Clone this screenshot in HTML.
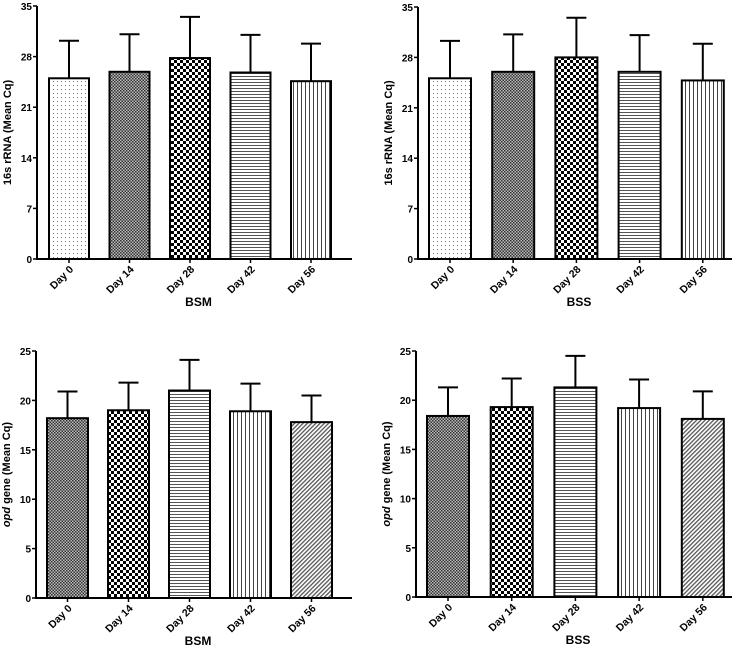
<!DOCTYPE html>
<html><head><meta charset="utf-8"><style>
body{margin:0;background:#fff;}
svg{display:block;font-family:"Liberation Sans",Arial,sans-serif;}
</style></head><body>
<svg id="c" width="738" height="651" viewBox="0 0 738 651" xmlns="http://www.w3.org/2000/svg">
<defs>
<pattern id="pDots" width="4" height="4" patternUnits="userSpaceOnUse"><rect width="4" height="4" fill="#fff"/><rect x="1" y="1" width="1" height="1" fill="#777"/></pattern>
<pattern id="pFine" width="3" height="3" patternUnits="userSpaceOnUse"><rect width="3" height="3" fill="#bbb"/><rect width="1.5" height="1.5" fill="#333"/><rect x="1.5" y="1.5" width="1.5" height="1.5" fill="#333"/></pattern>
<pattern id="pCheck" width="6" height="6" patternUnits="userSpaceOnUse"><rect width="6" height="6" fill="#fff"/><rect width="3" height="3" fill="#000"/><rect x="3" y="3" width="3" height="3" fill="#000"/></pattern>
<pattern id="pHoriz" width="4" height="3" patternUnits="userSpaceOnUse"><rect width="4" height="3" fill="#fff"/><rect y="1" width="4" height="1" fill="#555"/></pattern>
<pattern id="pVert" width="4" height="4" patternUnits="userSpaceOnUse"><rect width="4" height="4" fill="#fff"/><rect x="1" width="1" height="4" fill="#444"/></pattern>
<pattern id="pDiag" width="3" height="3" patternUnits="userSpaceOnUse" patternTransform="rotate(45)"><rect width="3" height="3" fill="#fff"/><rect width="1.3" height="3" fill="#555"/></pattern>
</defs>
</svg>
<script>
const categories=["Day 0","Day 14","Day 28","Day 42","Day 56"];
const bsm16sMeans=[25.0,25.9,27.8,25.8,24.6];
const bsm16sErrTop=[30.2,31.1,33.5,31.0,29.8];
const bss16sMeans=[25.1,26.0,28.0,26.0,24.8];
const bss16sErrTop=[30.3,31.2,33.5,31.1,29.9];
const bsmOpdMeans=[18.2,19.0,21.0,18.9,17.8];
const bsmOpdErrTop=[20.9,21.8,24.1,21.7,20.5];
const bssOpdMeans=[18.4,19.3,21.3,19.2,18.1];
const bssOpdErrTop=[21.3,22.2,24.5,22.1,20.9];
const ticks16s=[0,7,14,21,28,35];
const ticksOpd=[0,5,10,15,20,25];

const NS="http://www.w3.org/2000/svg";
const svg=document.getElementById('c');
function mk(tag,attrs,parent){const e=document.createElementNS(NS,tag);for(const k in attrs)e.setAttribute(k,attrs[k]);(parent||svg).appendChild(e);return e;}

function panel(p){
  const g=mk('g',{});
  
  
  const max=p.ticks[p.ticks.length-1];
  const y=v=>p.y0-(p.y0-p.yTop)*v/max;
  const x=i=>p.b0+i*p.step;
  categories.forEach((c,i)=>{
    const yt=y(p.err[i]), ym=y(p.means[i]), cx=x(i)+p.bw/2;
    const eb=mk('line',{x1:cx,x2:cx,y1:yt,y2:ym,stroke:'#000','stroke-width':2},g);
    
    
    const cap=mk('line',{x1:cx-10,x2:cx+10,y1:yt,y2:yt,stroke:'#000','stroke-width':2},g);
    
    
    const r=mk('rect',{x:x(i),y:ym,width:p.bw,height:p.y0-ym,fill:'url(#'+p.pats[i]+')',stroke:'#000','stroke-width':2},g);
    
    
    const t=mk('text',{x:0,y:0,'font-size':10.5,'font-weight':'bold','text-anchor':'end',transform:`translate(${cx+5},${p.y0+11}) rotate(-45)`},g);
    t.textContent=c;
    
    
  });
  const ya=mk('line',{x1:p.ax,x2:p.ax,y1:p.yTop,y2:p.y0+1,stroke:'#000','stroke-width':2},g);
  
  
  const xa=mk('line',{x1:p.ax-1,x2:p.axEnd,y1:p.y0,y2:p.y0,stroke:'#000','stroke-width':2},g);
  
  
  categories.forEach((c,i)=>{const cx=x(i)+p.bw/2;mk('line',{x1:cx,x2:cx,y1:p.y0,y2:p.y0+4,stroke:'#000','stroke-width':1.5},g);});
  p.ticks.forEach(v=>{
    mk('line',{x1:p.ax-4,x2:p.ax,y1:y(v),y2:y(v),stroke:'#000','stroke-width':1.5},g);
    const t=mk('text',{x:p.ax-5,y:y(v)+4,'font-size':10,'font-weight':'bold','text-anchor':'end'},g);
    t.textContent=v;
    
    
  });
  const yt=mk('text',{x:0,y:0,'font-size':11,'font-weight':'bold','text-anchor':'middle',transform:`translate(${p.ax-26},${(p.y0+p.yTop)/2}) rotate(-90)`},g);
  
  
  if(p.opd){const s=mk('tspan',{'font-style':'italic'},yt);s.textContent='opd';const s2=mk('tspan',{},yt);s2.textContent=' gene (Mean Cq)';}
  else yt.textContent='16s rRNA (Mean Cq)';
  const xt=mk('text',{x:(p.ax+p.axEnd)/2+4,y:p.y0+47,'font-size':12,'font-weight':'bold','text-anchor':'middle'},g);
  xt.textContent=p.xtitle;
  
  
}
const top16=['pDots','pFine','pCheck','pHoriz','pVert'];
const botOpd=['pFine','pCheck','pHoriz','pVert','pDiag'];
panel({name:'bsm-16s-chart',means:bsm16sMeans,err:bsm16sErrTop,ticks:ticks16s,ax:37,axEnd:352,y0:259,yTop:6,b0:49,step:60.5,bw:40,pats:top16,xtitle:'BSM'});
panel({name:'bss-16s-chart',means:bss16sMeans,err:bss16sErrTop,ticks:ticks16s,ax:418,axEnd:732,y0:259,yTop:7,b0:429,step:63.2,bw:42,pats:top16,xtitle:'BSS'});
panel({name:'bsm-opd-chart',means:bsmOpdMeans,err:bsmOpdErrTop,ticks:ticksOpd,ax:36,axEnd:352,y0:598,yTop:351,b0:47,step:61,bw:41,pats:botOpd,xtitle:'BSM',opd:true});
panel({name:'bss-opd-chart',means:bssOpdMeans,err:bssOpdErrTop,ticks:ticksOpd,ax:416,axEnd:732,y0:597,yTop:351,b0:427,step:63.7,bw:42,pats:botOpd,xtitle:'BSS',opd:true});
</script>
</body></html>
